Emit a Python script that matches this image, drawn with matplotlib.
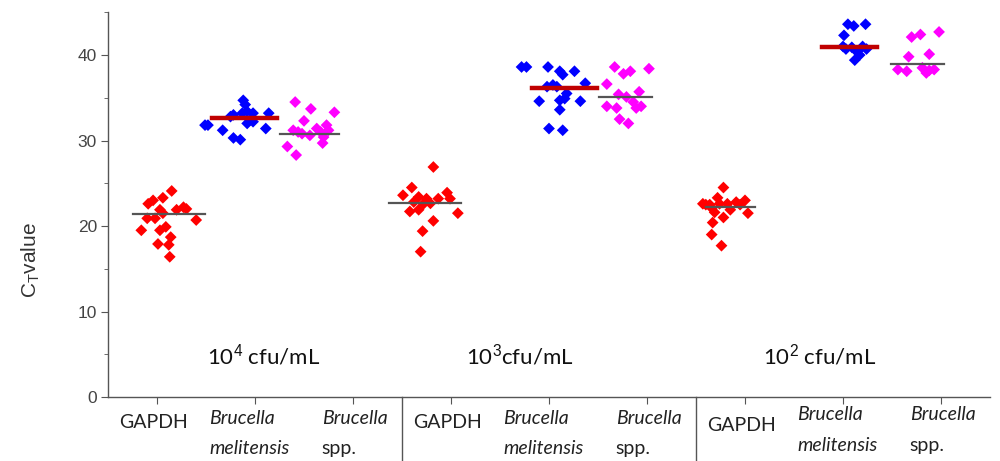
import numpy as np
import matplotlib.pyplot as plt
from matplotlib.ticker import MultipleLocator

plt.rcParams['mathtext.fontset'] = 'custom'
plt.rcParams['mathtext.rm'] = 'Liberation Sans'

# category order on the x axis (three per concentration)
categories = ['GAPDH', 'Brucella melitensis', 'Brucella spp.'] * 3
concentrations = ['10$^{4}$ cfu/mL', '10$^{3}$cfu/mL', '10$^{2}$ cfu/mL']

# scattered Ct values (x position with jitter, value)
g1_gapdh_x = [1.15, 1.06, 0.91, 0.96, 1.03, 1.27, 1.20, 1.30, 1.06, 0.90, 0.98, 1.40, 0.84, 1.03, 1.09, 1.14, 1.01, 1.12, 1.13]
g1_gapdh_y = [24.1, 23.3, 22.6, 23.0, 21.9, 22.2, 21.9, 22.0, 21.5, 20.9, 20.9, 20.7, 19.5, 19.5, 19.9, 18.7, 17.9, 17.8, 16.4]
g1_mel_x = [1.88, 1.90, 1.78, 1.92, 1.98, 2.14, 1.75, 1.95, 1.92, 1.52, 1.49, 1.67, 2.11, 1.78, 1.85, 1.98, 1.87]
g1_mel_y = [34.7, 34.2, 33.0, 33.4, 33.2, 33.2, 32.8, 32.4, 32.0, 31.8, 31.8, 31.2, 31.4, 30.3, 30.1, 32.2, 33.2]
g1_spp_x = [2.41, 2.57, 2.81, 2.50, 2.73, 2.63, 2.39, 2.48, 2.56, 2.70, 2.33, 2.42, 2.69, 2.67, 2.44, 2.75]
g1_spp_y = [34.5, 33.7, 33.3, 32.3, 31.8, 31.4, 31.2, 30.8, 30.6, 30.4, 29.3, 28.3, 29.7, 31.0, 31.0, 31.2]

g2_gapdh_x = [3.82, 3.60, 3.51, 3.96, 3.67, 3.75, 3.87, 3.99, 3.79, 3.58, 3.67, 4.07, 3.82, 3.71, 3.69, 3.62, 3.72]
g2_gapdh_y = [26.9, 24.5, 23.6, 23.9, 23.4, 23.2, 23.2, 23.2, 22.65, 21.7, 21.9, 21.5, 20.6, 19.4, 17.0, 22.8, 22.6]
g2_mel_x = [4.72, 4.77, 4.99, 5.11, 5.14, 5.26, 5.37, 4.98, 5.08, 5.18, 5.16, 4.90, 5.32, 5.11, 5.11, 5.00, 5.14, 5.04]
g2_mel_y = [38.6, 38.6, 38.6, 38.1, 37.7, 38.1, 36.7, 36.3, 36.3, 35.5, 34.9, 34.6, 34.6, 34.7, 33.6, 31.4, 31.2, 36.5]
g2_spp_x = [5.67, 6.02, 5.83, 5.76, 5.59, 5.71, 5.92, 5.86, 5.94, 5.59, 5.69, 5.89, 5.72, 5.81, 5.79]
g2_spp_y = [38.6, 38.4, 38.1, 37.8, 36.6, 35.4, 35.7, 34.5, 34.0, 34.0, 33.8, 33.8, 32.5, 32.0, 35.1]

g3_gapdh_x = [6.78, 6.91, 6.57, 6.64, 6.74, 6.82, 7.03, 6.67, 6.78, 6.66, 6.76, 6.60, 6.66, 6.72, 6.85, 6.95, 7.00, 6.69]
g3_gapdh_y = [24.5, 22.8, 22.6, 22.5, 22.6, 22.6, 21.5, 20.4, 21.0, 19.0, 17.7, 22.5, 22.1, 23.3, 21.9, 22.5, 23.0, 21.6]
g3_mel_x = [8.05, 8.11, 8.23, 8.01, 8.00, 8.09, 8.20, 8.14, 8.17, 8.12, 8.24, 8.03]
g3_mel_y = [43.6, 43.4, 43.6, 42.3, 41.0, 40.9, 41.0, 40.4, 40.0, 39.4, 40.7, 40.7]
g3_spp_x = [8.98, 8.70, 8.79, 8.67, 8.88, 8.56, 8.65, 8.81, 8.88, 8.93, 8.85]
g3_spp_y = [42.7, 42.1, 42.4, 39.8, 40.1, 38.3, 38.1, 38.5, 38.2, 38.3, 37.9]

# mean lines: value and horizontal extent
mean_values = [21.4, 32.6, 30.8, 22.65, 36.2, 35.05, 22.25, 40.97, 39.0]
mean_x0 = [0.76, 1.56, 2.25, 3.37, 4.83, 5.51, 6.60, 7.79, 8.49]
mean_x1 = [1.49, 2.22, 2.86, 4.10, 5.49, 6.05, 7.10, 8.35, 9.03]

series = [
    (g1_gapdh_x, g1_gapdh_y), (g1_mel_x, g1_mel_y), (g1_spp_x, g1_spp_y),
    (g2_gapdh_x, g2_gapdh_y), (g2_mel_x, g2_mel_y), (g2_spp_x, g2_spp_y),
    (g3_gapdh_x, g3_gapdh_y), (g3_mel_x, g3_mel_y), (g3_spp_x, g3_spp_y),
]
colors = ['#ff0000', '#0000ff', '#ff00ff'] * 3

fig = plt.figure(figsize=(10, 4.61), dpi=100)
ax = fig.add_axes([0.108, 0.1388, 0.882, 0.8346])

for i, (xs, ys) in enumerate(series):
    ax.scatter(xs, ys, marker='D', s=36, color=colors[i], edgecolors='none', zorder=2)
    if i % 3 == 1:
        ax.plot([mean_x0[i], mean_x1[i]], [mean_values[i]] * 2, color='#c00000', lw=3.2, zorder=3)
    else:
        ax.plot([mean_x0[i], mean_x1[i]], [mean_values[i]] * 2, color='#555555', lw=1.6, zorder=3)

ax.set_xlim(0.5, 9.5)
ax.set_ylim(0, 45)
ax.spines['top'].set_visible(False)
ax.spines['right'].set_visible(False)
for s in ['left', 'bottom']:
    ax.spines[s].set_color('#555555')
    ax.spines[s].set_linewidth(1.0)

ax.yaxis.set_major_locator(MultipleLocator(10))
ax.yaxis.set_minor_locator(MultipleLocator(5))
ax.tick_params(axis='y', which='major', length=5, color='#555555', labelcolor='#444444',
               labelsize=12.5, pad=3)
ax.tick_params(axis='y', which='minor', length=3, color='#555555')
for lab in ax.get_yticklabels():
    lab.set_fontfamily('Liberation Sans')

ax.set_xticks(range(1, 10))
ax.set_xticklabels([])
ax.tick_params(axis='x', length=5, color='#555555')

ax.set_ylabel('C$_{\\mathrm{T}}$value', family='Liberation Sans', fontsize=15,
              color='#333333')
ax.yaxis.set_label_coords(-0.075, 0.356)

# category labels below the axis
tr = ax.get_xaxis_transform()
fnt = dict(family='Lato', fontsize=14, color='#222222', transform=tr)
for g in range(3):
    base = g * 3
    dy = 0.01 if g == 2 else 0.0
    ax.text(base + 1 - 0.04, -0.065 - dy, categories[base], ha='center', va='center', **fnt)
    ax.text(base + 1.53, -0.055 + dy, 'Brucella', ha='left', va='center', style='italic', **fnt)
    ax.text(base + 1.53, -0.135 + dy, 'melitensis', ha='left', va='center', style='italic', **fnt)
    ax.text(base + 2.68, -0.055 + dy, 'Brucella', ha='left', va='center', style='italic', **fnt)
    ax.text(base + 2.68, -0.135 + dy, 'spp.', ha='left', va='center', **fnt)

# separators between concentration groups
for xs in [3.5, 6.5]:
    ax.plot([xs, xs], [0, -0.17], color='#555555', lw=1.0, transform=tr, clip_on=False)

conc_x = [1.51, 4.15, 7.18]
for cx, lab in zip(conc_x, concentrations):
    ax.text(cx, 4.9, lab, family='Lato', fontsize=16, color='#111111', ha='left', va='center')

fig.savefig('out.png', dpi=100)
